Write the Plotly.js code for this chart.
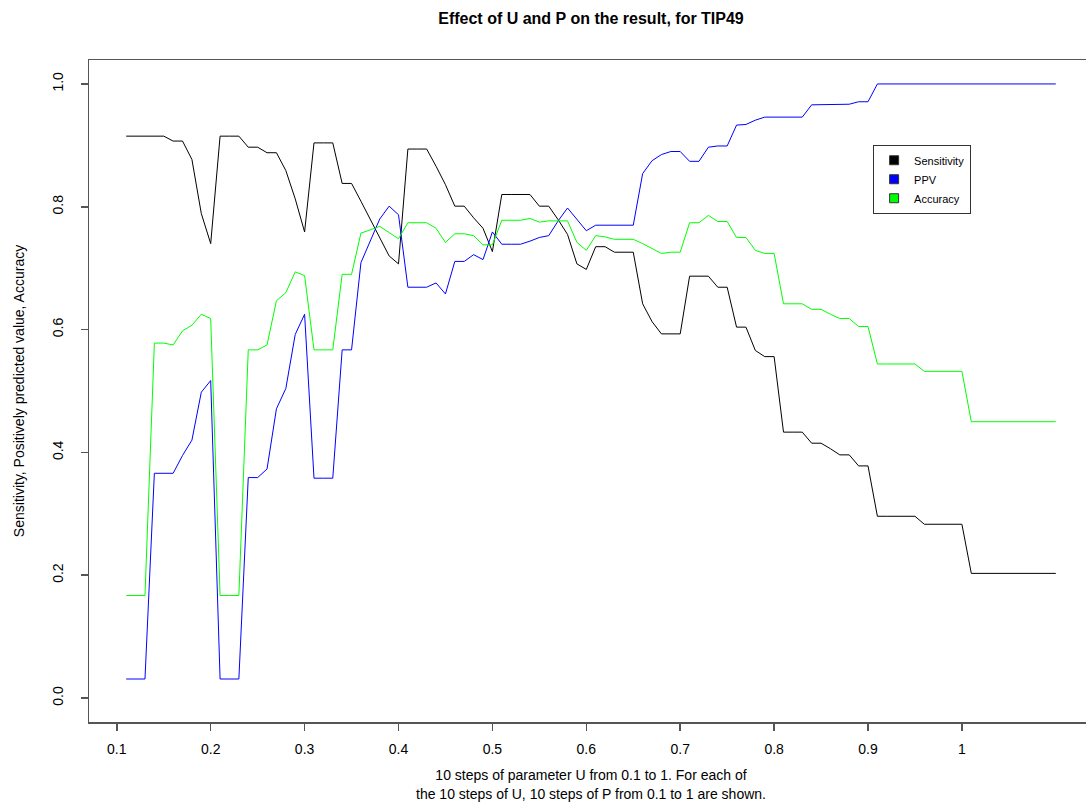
<!DOCTYPE html>
<html>
<head>
<meta charset="utf-8">
<script src="https://cdn.plot.ly/plotly-3.0.1.min.js"></script>
<style>
html, body { margin: 0; padding: 0; overflow: hidden; background: #fff; }
#chart { width: 1093px; height: 804px; }
</style>
</head>
<body>
<div id="chart"></div>
<script>
const steps = [0.11,0.12,0.13,0.14,0.15,0.16,0.17,0.18,0.19,0.20,
  0.21,0.22,0.23,0.24,0.25,0.26,0.27,0.28,0.29,0.30,
  0.31,0.32,0.33,0.34,0.35,0.36,0.37,0.38,0.39,0.40,
  0.41,0.42,0.43,0.44,0.45,0.46,0.47,0.48,0.49,0.50,
  0.51,0.52,0.53,0.54,0.55,0.56,0.57,0.58,0.59,0.60,
  0.61,0.62,0.63,0.64,0.65,0.66,0.67,0.68,0.69,0.70,
  0.71,0.72,0.73,0.74,0.75,0.76,0.77,0.78,0.79,0.80,
  0.81,0.82,0.83,0.84,0.85,0.86,0.87,0.88,0.89,0.90,
  0.91,0.92,0.93,0.94,0.95,0.96,0.97,0.98,0.99,1.00,
  1.01,1.02,1.03,1.04,1.05,1.06,1.07,1.08,1.09,1.10];

const sensitivity = [0.915,0.915,0.915,0.915,0.915,0.907,0.907,0.877,0.789,0.740,
  0.915,0.915,0.915,0.897,0.897,0.888,0.888,0.859,0.813,0.759,
  0.904,0.904,0.904,0.838,0.838,0.809,0.779,0.749,0.720,0.707,
  0.894,0.894,0.894,0.866,0.836,0.801,0.801,0.782,0.765,0.727,
  0.820,0.820,0.820,0.820,0.801,0.801,0.779,0.755,0.707,0.698,
  0.735,0.735,0.726,0.726,0.726,0.642,0.613,0.593,0.593,0.593,
  0.687,0.687,0.687,0.669,0.669,0.604,0.604,0.566,0.556,0.556,
  0.433,0.433,0.433,0.415,0.415,0.406,0.396,0.396,0.378,0.378,
  0.296,0.296,0.296,0.296,0.296,0.283,0.283,0.283,0.283,0.283,
  0.203,0.203,0.203,0.203,0.203,0.203,0.203,0.203,0.203,0.203];

const ppv = [0.031,0.031,0.031,0.366,0.366,0.366,0.395,0.420,0.498,0.517,
  0.031,0.031,0.031,0.359,0.359,0.373,0.471,0.504,0.592,0.625,
  0.358,0.358,0.358,0.567,0.567,0.709,0.744,0.780,0.801,0.787,
  0.669,0.669,0.669,0.676,0.658,0.711,0.711,0.722,0.714,0.759,
  0.739,0.739,0.739,0.744,0.750,0.753,0.777,0.798,0.780,0.761,
  0.770,0.770,0.770,0.770,0.770,0.854,0.875,0.885,0.890,0.890,
  0.874,0.874,0.897,0.899,0.899,0.933,0.934,0.941,0.946,0.946,
  0.946,0.946,0.946,0.966,0.966,0.966,0.966,0.967,0.971,0.971,
  1.000,1.000,1.000,1.000,1.000,1.000,1.000,1.000,1.000,1.000,
  1.000,1.000,1.000,1.000,1.000,1.000,1.000,1.000,1.000,1.000];

const accuracy = [0.167,0.167,0.167,0.578,0.578,0.575,0.598,0.607,0.625,0.618,
  0.167,0.167,0.167,0.567,0.567,0.575,0.647,0.660,0.694,0.688,
  0.567,0.567,0.567,0.690,0.690,0.757,0.762,0.768,0.758,0.748,
  0.774,0.774,0.774,0.765,0.742,0.756,0.756,0.753,0.738,0.738,
  0.778,0.778,0.778,0.781,0.775,0.777,0.777,0.777,0.742,0.729,
  0.753,0.751,0.747,0.747,0.747,0.740,0.732,0.724,0.726,0.726,
  0.774,0.774,0.786,0.776,0.776,0.750,0.750,0.729,0.724,0.724,
  0.642,0.642,0.642,0.633,0.633,0.625,0.618,0.618,0.605,0.605,
  0.544,0.544,0.544,0.544,0.544,0.532,0.532,0.532,0.532,0.532,
  0.450,0.450,0.450,0.450,0.450,0.450,0.450,0.450,0.450,0.450];

const seriesNames = ["Sensitivity", "PPV", "Accuracy"];
const seriesColors = ["#000000", "#0000ff", "#00ff00"];
const seriesData = [sensitivity, ppv, accuracy];

const xTickVals = [0.1,0.2,0.3,0.4,0.5,0.6,0.7,0.8,0.9,1.0];
const xTickText = ["0.1","0.2","0.3","0.4","0.5","0.6","0.7","0.8","0.9","1"];
const yTickVals = [0,0.2,0.4,0.6,0.8,1.0];
const yTickText = ["0.0","0.2","0.4","0.6","0.8","1.0"];

const traces = [];
seriesData.forEach((vals, i) => {
  traces.push({
    x: steps, y: vals, type: "scatter", mode: "lines",
    line: { color: seriesColors[i], width: 1 },
    showlegend: false, hoverinfo: "x+y"
  });
});
seriesNames.forEach((name, i) => {
  traces.push({
    x: [null], y: [null], type: "scatter", mode: "markers", name: name,
    marker: { symbol: "square", size: 9, color: seriesColors[i], line: { color: "#333", width: 1 } },
    showlegend: true
  });
});

const font = "Liberation Sans, Arial, Helvetica, sans-serif";
const layout = {
  width: 1093, height: 804,
  margin: { l: 89, r: 0, t: 60, b: 82 },
  paper_bgcolor: "#ffffff", plot_bgcolor: "#ffffff",
  font: { family: font, size: 14, color: "#000" },
  title: {
    text: "<b>Effect of U and P on the result, for TIP49</b>",
    font: { family: font, size: 16, color: "#000" },
    x: 0.5, xref: "paper", y: 0.977, yanchor: "middle"
  },
  xaxis: {
    range: [0.0704, 1.1396], showgrid: false, zeroline: false,
    showline: true, linecolor: "#555", linewidth: 1.5, mirror: true,
    ticks: "outside", ticklen: 7, tickcolor: "#555", tickwidth: 1.5,
    tickvals: xTickVals, ticktext: xTickText, ticklabelstandoff: 7,
    tickfont: { family: font, size: 14, color: "#000" },
    title: {
      text: "10 steps of parameter U from 0.1 to 1. For each of<br>the 10 steps of U, 10 steps of P from 0.1 to 1 are shown.",
      font: { family: font, size: 14, color: "#000" }, standoff: 14
    }
  },
  yaxis: {
    range: [-0.039, 1.039], showgrid: false, zeroline: false,
    showline: true, linecolor: "#555", linewidth: 1.5, mirror: true,
    ticks: "outside", ticklen: 7, tickcolor: "#555", tickwidth: 1.5,
    tickvals: yTickVals, ticktext: yTickText, tickangle: -90, ticklabelstandoff: 12,
    tickfont: { family: font, size: 14, color: "#000" },
    title: {
      text: "Sensitivity, Positively predicted value, Accuracy",
      font: { family: font, size: 14, color: "#000" }, standoff: 22
    }
  },
  legend: {
    x: 0.781, y: 0.872, xanchor: "left", yanchor: "top",
    bgcolor: "#ffffff", bordercolor: "#333", borderwidth: 1,
    font: { family: font, size: 11, color: "#000" },
    itemwidth: 30, tracegroupgap: 0
  },
  showlegend: true
};

Plotly.newPlot("chart", traces, layout, { displayModeBar: false, staticPlot: true });
</script>
</body>
</html>
